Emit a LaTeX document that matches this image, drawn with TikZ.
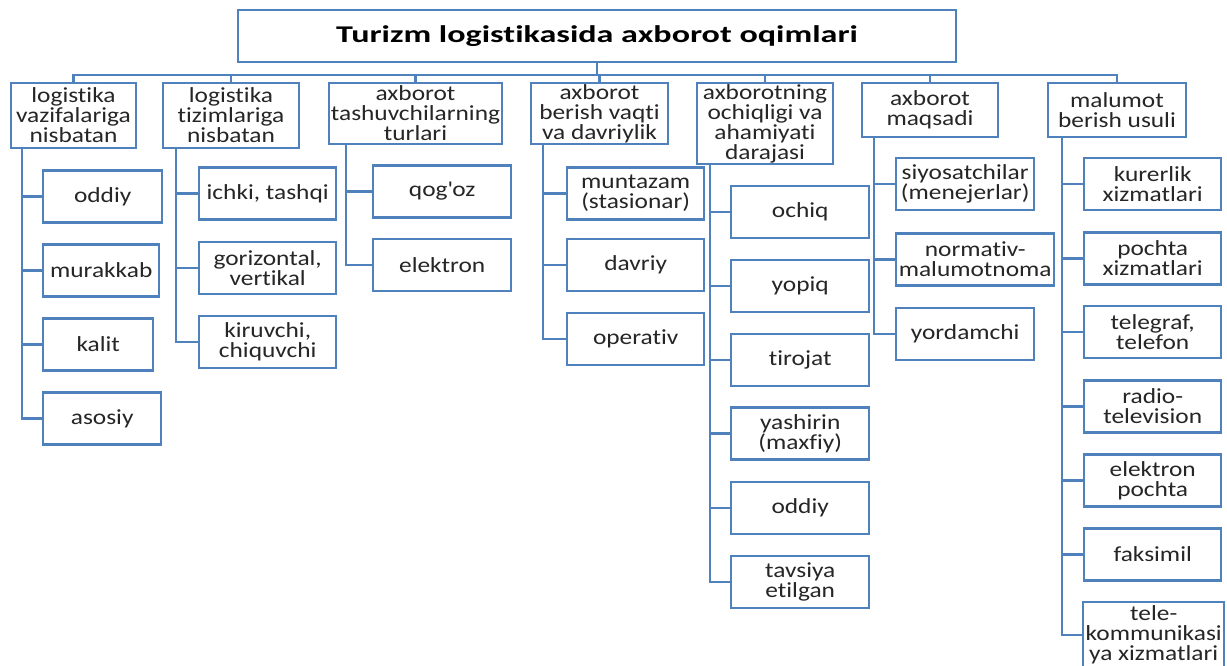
\documentclass[tikz,border=0pt]{standalone}
\usepackage{fontspec}
\setmainfont{Carlito}[FakeStretch=1.18, Ligatures=NoCommon]
\newfontfamily\titlefont{Carlito}[FakeStretch=1.42, Ligatures=NoCommon]
\usepackage{tikz}
\usetikzlibrary{calc}
\definecolor{boxblue}{RGB}{79,129,189}
\definecolor{txtgray}{RGB}{38,38,38}

\begin{document}
\begin{tikzpicture}[
  x = 1pt, y = -1pt,
  font = \fontsize{21.5}{20}\selectfont,
  box/.style = {rectangle, draw=boxblue, line width=2.4pt, fill=white,
                align=center, inner sep=0pt, text=txtgray},
  head/.style = {box, text=black, font=\titlefont\fontsize{24}{26}\selectfont\bfseries},
  cat/.style = {box},
  item/.style = {box, anchor=west, minimum height=52pt},
  link/.style = {draw=boxblue, line width=2.4pt},
]
\useasboundingbox (0,0) rectangle (1227,666);

\node[head, minimum width=718pt, minimum height=52pt] (title) at (597,36) {Turizm logistikasida axborot oqimlari};

\node[cat, minimum width=125pt, minimum height=65pt] (vazifa) at (73.5,115.5) {logistika\\vazifalariga\\nisbatan};
\node[cat, minimum width=136pt, minimum height=65pt] (tizim) at (231,115.5) {logistika\\tizimlariga\\nisbatan};
\node[cat, minimum width=173pt, minimum height=61pt] (tashuv) at (415.5,113.5) {axborot\\tashuvchilarning\\turlari};
\node[cat, minimum width=137pt, minimum height=61pt] (vaqt) at (599.5,113.5) {axborot\\berish vaqti\\va davriylik};
\node[cat, minimum width=136pt, minimum height=81pt] (daraja) at (765,123.5) {axborotning\\ochiqligi va\\ahamiyati\\darajasi};
\node[cat, minimum width=136pt, minimum height=54pt] (maqsad) at (930,110) {axborot\\maqsadi};
\node[cat, minimum width=138pt, minimum height=54pt] (usul) at (1117,110) {malumot\\berish usuli};

\node[item, minimum width=119pt] (oddiy) at (42,196.5) {oddiy};
\node[item, minimum width=116pt] (murakkab) at (42,270.5) {murakkab};
\node[item, minimum width=110pt] (kalit) at (42,344.5) {kalit};
\node[item, minimum width=118pt] (asosiy) at (42,418.5) {asosiy};

\node[item, minimum width=137pt] (ichki) at (198,193.5) {ichki, tashqi};
\node[item, minimum width=137pt] (gorizont) at (198,268) {gorizontal,\\vertikal};
\node[item, minimum width=137pt] (kiruvchi) at (198,342) {kiruvchi,\\chiquvchi};

\node[item, minimum width=138pt] (qogoz) at (372,191.5) {qog\textquotesingle oz};
\node[item, minimum width=138pt] (elektron) at (372,265) {elektron};

\node[item, minimum width=137pt] (muntazam) at (566,193.5) {muntazam\\(stasionar)};
\node[item, minimum width=137pt] (davriy) at (566,265) {davriy};
\node[item, minimum width=137pt] (operativ) at (566,339) {operativ};

\node[item, minimum width=138pt] (ochiq) at (730,212) {ochiq};
\node[item, minimum width=138pt] (yopiq) at (730,286) {yopiq};
\node[item, minimum width=138pt] (tirojat) at (730,360) {tirojat};
\node[item, minimum width=138pt] (yashirin) at (730,433.5) {yashirin\\(maxfiy)};
\node[item, minimum width=138pt] (oddiyb) at (730,508) {oddiy};
\node[item, minimum width=138pt] (tavsiya) at (730,582) {tavsiya\\etilgan};

\node[item, minimum width=138pt] (siyosat) at (895,184) {siyosatchilar\\(menejerlar)};
\node[item, minimum width=158pt] (normativ) at (895,259.5) {normativ-\\malumotnoma};
\node[item, minimum width=138pt] (yordam) at (895,334) {yordamchi};

\node[item, minimum width=137pt] (kurer) at (1083,184) {kurerlik\\xizmatlari};
\node[item, minimum width=137pt] (pochta) at (1083,258.5) {pochta\\xizmatlari};
\node[item, minimum width=137pt] (telegraf) at (1083,332) {telegraf,\\telefon};
\node[item, minimum width=137pt] (radio) at (1083,406.5) {radio-\\television};
\node[item, minimum width=137pt] (epochta) at (1083,480.5) {elektron\\pochta};
\node[item, minimum width=137pt] (faksimil) at (1083,554.5) {faksimil};
\node[item, minimum width=141pt, minimum height=66pt] (telekom) at (1082,635) {tele-\\kommunikasi\\ya xizmatlari};

\foreach \c in {vazifa, tizim, tashuv, vaqt, daraja, maqsad, usul}
  \draw[link] (title.south) -- ++(0,12) -| (\c.north);

\coordinate (s1) at ([xshift=12pt]vazifa.south west);
\coordinate (s2) at ([xshift=14pt]tizim.south west);
\coordinate (s3) at ([xshift=18pt]tashuv.south west);
\coordinate (s4) at ([xshift=13pt]vaqt.south west);
\coordinate (s5) at ([xshift=14pt]daraja.south west);
\coordinate (s6) at ([xshift=13pt]maqsad.south west);
\coordinate (s7) at ([xshift=15pt]usul.south west);

\foreach \k in {oddiy, murakkab, kalit, asosiy} \draw[link] (s1) |- (\k.west);
\foreach \k in {ichki, gorizont, kiruvchi} \draw[link] (s2) |- (\k.west);
\foreach \k in {qogoz, elektron} \draw[link] (s3) |- (\k.west);
\foreach \k in {muntazam, davriy, operativ} \draw[link] (s4) |- (\k.west);
\foreach \k in {ochiq, yopiq, tirojat, yashirin, oddiyb, tavsiya} \draw[link] (s5) |- (\k.west);
\foreach \k in {siyosat, normativ, yordam} \draw[link] (s6) |- (\k.west);
\foreach \k in {kurer, pochta, telegraf, radio, epochta, faksimil, telekom} \draw[link] (s7) |- (\k.west);
\end{tikzpicture}
\end{document}
